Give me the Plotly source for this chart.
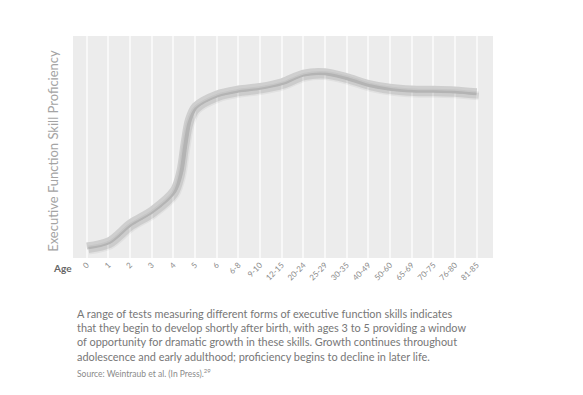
import plotly.graph_objects as go

# ---- data ----
age_labels = ["0", "1", "2", "3", "4", "5", "6", "6-8", "9-10", "12-15", "20-24",
              "25-29", "30-35", "40-49", "50-60", "65-69", "70-75", "76-80", "81-85"]
curve_x = [0, 1, 2, 3, 4, 4.3, 4.5, 4.7, 5, 6, 7, 8, 9, 10, 11, 12, 13, 14, 15, 16, 17, 18]
curve_y = [5.4, 7.7, 15.8, 21.6, 30.5, 39, 52, 62.5, 68.5, 73.9, 76.1, 77.3, 79.4, 83.3,
           83.9, 81.7, 78.7, 76.9, 76.1, 76.0, 75.7, 74.9]

y_title = "Executive Function Skill Proficiency"
caption = ("A range of tests measuring different forms of executive function skills indicates<br>"
           "that they begin to develop shortly after birth, with ages 3 to 5 providing a window<br>"
           "of opportunity for dramatic growth in these skills. Growth continues throughout<br>"
           "adolescence and early adulthood; proficiency begins to decline in later life.")
source = "Source: Weintraub et al. (In Press).<sup>29</sup>"

FONT = "Lato"
XR = [-0.63, 18.75]
YR = [0, 100]
# shadow axes shifted a few pixels (right/down)
XR2 = [XR[0] - 0.09, XR[1] - 0.09]
YR2 = [YR[0] + 1.8, YR[1] + 1.8]

fig = go.Figure()

for w, a in [(9, 0.045), (6, 0.09)]:
    fig.add_trace(go.Scatter(
        x=curve_x, y=curve_y, mode="lines",
        line=dict(color=f"rgba(0,0,0,{a})", width=w, shape="spline", smoothing=0.9),
        xaxis="x2", yaxis="y2", hoverinfo="skip", showlegend=False))

fig.add_trace(go.Scatter(
    x=curve_x, y=curve_y, mode="lines",
    line=dict(color="#cfcfcf", width=7, shape="spline", smoothing=0.9),
    showlegend=False))

fig.update_layout(
    width=583, height=395,
    margin=dict(l=65, r=98, t=28, b=145),
    paper_bgcolor="white", plot_bgcolor="#ececec",
    font=dict(family=FONT, color="#888"),
    xaxis=dict(range=XR, tickmode="array", tickvals=list(range(len(age_labels))),
               ticktext=age_labels, tickangle=-45, showgrid=True,
               gridcolor="#f8f8f8", gridwidth=1.5, zeroline=False, showline=False,
               ticks="", tickfont=dict(size=8, color="#8a8a8a", family=FONT)),
    yaxis=dict(range=YR, showticklabels=False, showgrid=False, zeroline=False),
    xaxis2=dict(range=XR2, overlaying="x", visible=False),
    yaxis2=dict(range=YR2, overlaying="y", visible=False),
    annotations=[
        dict(text=y_title, xref="paper", yref="paper", x=-0.048, y=0.482,
             textangle=-90, showarrow=False, xanchor="center", yanchor="middle",
             font=dict(size=13, color="#a4a4a4", family=FONT)),
        dict(text="<b>Age</b>", xref="paper", yref="paper", x=-0.026, y=-0.045,
             showarrow=False, xanchor="center", yanchor="middle",
             font=dict(size=10, color="#666", family=FONT)),
        dict(text=caption, xref="paper", yref="paper", x=0.0048, y=-0.212,
             showarrow=False, xanchor="left", yanchor="top", align="left",
             font=dict(size=10.9, color="#777", family=FONT)),
        dict(text=source, xref="paper", yref="paper", x=0.0048, y=-0.519,
             showarrow=False, xanchor="left", yanchor="middle", align="left",
             font=dict(size=8.5, color="#8a8a8a", family=FONT)),
    ],
)

fig.write_html("out.html")
